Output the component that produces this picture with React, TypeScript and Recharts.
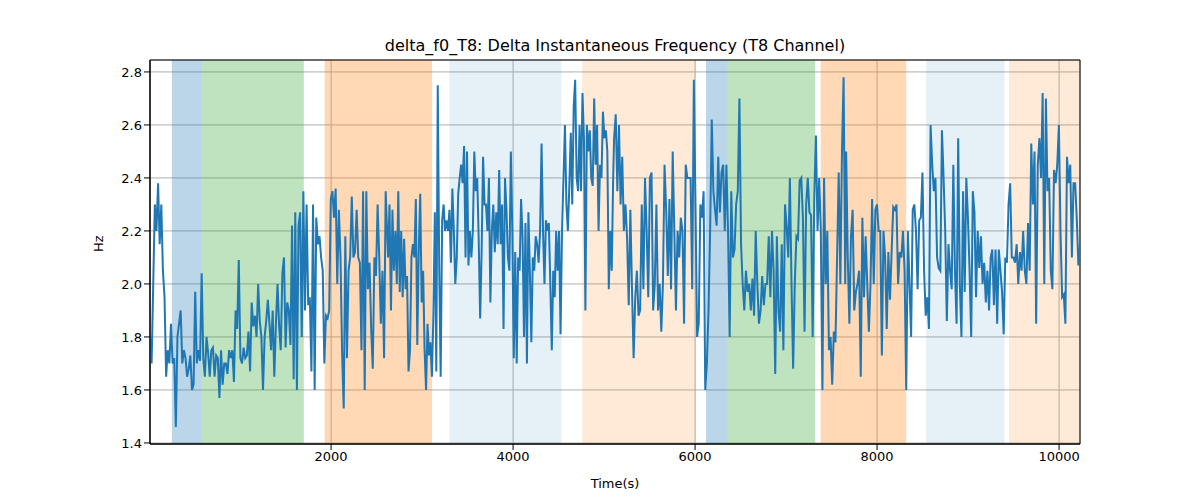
import React from "react";
import {
  LineChart,
  Line,
  XAxis,
  YAxis,
  CartesianGrid,
  ReferenceArea,
} from "recharts";

// values, one list per stretch of the time axis
const seg1: number[] = [
  1.8, 1.7, 2.0, 2.3, 2.2, 2.38, 2.15, 2.3, 2.05, 1.95, 1.65, 1.75, 1.7, 1.85, 1.7, 1.72, 1.46, 1.8, 1.85, 1.9,
  1.7, 1.75, 1.72, 1.65, 1.68, 1.73, 1.6, 1.62, 1.97, 1.7, 1.75, 1.71, 2.04, 1.72, 1.65, 1.8, 1.74, 1.65, 1.75, 1.76,
  1.65, 1.73, 1.72, 1.57, 1.75, 1.62, 1.7, 1.7, 1.66, 1.75, 1.72, 1.75, 1.63, 1.9, 1.83, 2.09, 1.72, 1.7, 1.76, 1.72,
  1.73, 1.82, 1.67, 1.93, 1.84, 1.88, 1.8, 2.0, 1.86, 1.8, 1.6, 1.8, 1.86, 1.94, 1.85, 1.75, 1.9, 1.65, 1.85, 2.0,
  1.84, 1.75, 2.04, 2.1, 1.76, 1.93, 1.9, 1.77, 2.22, 1.64, 2.27, 1.6, 2.22, 2.27, 1.8, 2.35, 1.9, 2.3, 1.92, 1.95,
  1.67, 2.3, 1.6, 2.25, 2.15, 2.18, 2.1, 2.05, 1.7, 1.88, 1.87, 1.9, 2.32, 2.35, 2.25, 2.36, 2.0, 2.28, 2.1, 1.74,
  1.53, 2.18, 1.72, 2.05, 2.1, 2.33, 2.1, 2.12, 2.28, 2.1, 2.08, 1.75, 2.35, 1.6, 2.35, 1.98, 2.08, 1.83, 1.68, 2.1,
  2.03, 2.3, 2.1, 1.85, 2.05, 1.72, 2.35,
];
const seg2: number[] = [
  2.25, 2.1, 2.3, 1.9, 2.28, 2.05, 2.2, 2.0, 2.35, 1.97, 2.2, 1.95, 2.17, 1.98, 2.03, 1.67, 1.75, 2.1, 2.15, 2.1,
  2.32, 1.77, 2.12, 2.34, 1.93, 2.05, 1.75, 1.6, 1.85, 1.73, 1.78, 1.65, 1.88, 2.27, 1.67, 2.75, 2.06, 1.65, 2.24, 2.3,
  2.2, 2.24, 2.2, 2.28, 2.08, 2.36, 2.2, 2.0, 2.1, 2.34, 2.4, 2.45, 2.38, 2.52, 2.1, 2.5, 2.07, 2.2, 2.1, 2.2,
  2.5, 2.35, 2.4, 2.17, 1.87, 2.12, 2.48, 2.3, 2.3, 2.2, 2.4, 1.93, 2.2, 2.3, 2.12, 2.27, 2.15, 2.43, 2.15, 2.3,
  1.83, 2.4, 2.28, 2.1, 2.05, 2.5, 2.2, 1.72, 2.12, 1.7, 2.1, 2.05, 2.32, 2.18, 1.8, 2.23, 1.7, 2.27, 2.05, 1.78,
  2.1, 2.05, 2.18, 2.15, 2.08, 2.2, 2.53, 2.2, 2.0, 2.24, 2.2, 2.23, 2.0, 1.75, 2.05, 1.95, 2.2, 2.05, 2.2, 1.81,
  2.2, 2.4, 2.6, 2.3, 2.2, 2.37, 2.57, 2.3, 2.67, 2.77, 2.4, 2.35, 2.6, 2.35, 2.72, 2.55, 1.9, 2.6, 2.5, 2.58,
  2.4, 2.37, 2.7, 2.45, 2.6, 2.2, 2.45, 2.4, 2.65, 2.55, 2.58, 2.5, 1.98, 2.2, 2.05, 2.4,
];
const seg3: number[] = [
  2.55, 2.64, 2.35, 2.6, 2.3, 2.48, 2.2, 2.3, 2.17, 1.92, 2.28, 1.98, 1.72, 1.95, 2.05, 1.88, 1.9, 2.3, 1.98, 2.4,
  2.2, 1.95, 2.4, 2.42, 1.9, 2.0, 2.3, 1.9, 2.0, 1.82, 2.0, 2.45, 2.28, 2.03, 2.32, 1.98, 2.5, 2.2, 1.9, 2.2,
  2.1, 2.25, 2.2, 1.85, 2.45, 2.4, 2.4, 2.4, 1.98, 2.77, 2.3, 1.8, 1.85, 2.3, 2.25, 2.35, 1.6, 1.7, 1.9, 2.2,
  2.62, 2.35, 2.28, 2.22, 2.48, 2.27, 2.42, 2.45, 2.2, 2.45, 2.2, 1.8, 2.35, 2.1, 2.13, 2.3, 2.35, 2.7, 2.15, 2.0,
  1.9, 2.05, 1.97, 2.0, 1.9, 2.02, 1.88, 2.2, 2.0, 1.85, 1.9, 2.03, 1.92, 2.0, 2.0, 2.18, 1.95, 2.2, 2.05, 1.66,
  2.18, 1.9, 1.82, 2.15, 1.75, 2.3, 2.22, 2.1, 2.4, 2.0, 1.68, 2.0, 2.18, 2.17, 2.39, 2.4, 2.25, 1.82, 2.3, 2.4,
  2.27, 2.26, 1.8, 2.33, 2.56, 2.2, 2.4, 2.2, 1.6, 2.4, 2.0, 2.2, 1.75, 1.8, 1.62, 1.82, 1.78, 2.1, 2.42, 2.0,
  2.5, 2.78, 2.0,
];
const seg4: number[] = [
  2.5, 2.1, 1.85, 2.18, 2.28, 1.9, 1.97, 2.0, 2.05, 1.65, 2.25, 1.95, 2.18, 2.0, 1.82, 2.0, 2.32, 2.0, 2.28, 2.3,
  2.2, 2.2, 1.73, 2.2, 2.1, 1.83, 2.12, 1.94, 2.12, 2.29, 2.28, 2.3, 2.0, 2.12, 2.1, 2.2, 2.05, 1.6, 2.2, 2.0,
  1.8, 2.28, 2.3, 2.2, 1.98, 2.24, 2.25, 2.42, 2.05, 1.88, 1.95, 1.83, 2.6, 2.45, 2.35, 2.4, 2.1, 2.06, 2.05, 2.58,
  2.4, 2.2, 1.86, 2.15, 2.05, 1.98, 2.45, 2.05, 1.85, 2.55, 2.0, 1.8, 2.35, 1.97, 2.4, 2.25, 2.05, 1.8, 2.35, 2.27,
  1.95, 2.2, 2.06, 2.18, 2.0, 2.08, 1.93, 2.05, 1.9, 2.1, 2.13, 1.92, 2.13, 1.85, 2.13, 2.05, 1.97, 1.81, 2.1, 2.08,
  2.3, 2.38, 2.1, 2.1, 2.08, 2.15, 2.0, 2.12, 2.05, 2.2, 2.05, 2.0, 2.23, 2.05, 2.53, 2.3, 2.5, 1.85, 2.45, 2.55,
  2.4, 2.72, 2.0, 2.7, 2.35, 2.4, 2.05, 1.98, 2.43, 2.38, 2.45, 2.6, 2.2, 1.95, 1.96, 1.85, 2.48, 2.38, 2.45, 2.1,
  2.38, 2.38, 2.25, 2.07, 2.15,
];
// time span covered by each list
const segSpans: [number, number][] = [
  [10, 2600],
  [2610, 5100],
  [5110, 7650],
  [7660, 10230],
];

const phases = [
  { x1: 250, x2: 580, color: "#1f77b4", opacity: 0.3 },
  { x1: 580, x2: 1700, color: "#2ca02c", opacity: 0.3 },
  { x1: 1930, x2: 3110, color: "#ff7f0e", opacity: 0.3 },
  { x1: 3300, x2: 4530, color: "#1f77b4", opacity: 0.11 },
  { x1: 4760, x2: 6010, color: "#ff7f0e", opacity: 0.16 },
  { x1: 6120, x2: 6360, color: "#1f77b4", opacity: 0.3 },
  { x1: 6360, x2: 7320, color: "#2ca02c", opacity: 0.3 },
  { x1: 7380, x2: 8320, color: "#ff7f0e", opacity: 0.3 },
  { x1: 8540, x2: 9400, color: "#1f77b4", opacity: 0.11 },
  { x1: 9450, x2: 10230, color: "#ff7f0e", opacity: 0.16 },
];

const xTicks = [2000, 4000, 6000, 8000, 10000];
const yTicks = [1.4, 1.6, 1.8, 2.0, 2.2, 2.4, 2.6, 2.8];

const data = [seg1, seg2, seg3, seg4].flatMap((vals, s) => {
  const [a, b] = segSpans[s];
  return vals.map((v, i) => ({ t: a + ((b - a) * i) / (vals.length - 1), hz: v }));
});

const font = "DejaVu Sans";

export default function App() {
  return (
    <div style={{ width: 1200, height: 500, margin: "-8px 0 0 -8px", position: "relative", background: "#fff", fontFamily: font }}>
      <div style={{ position: "absolute", top: 36, left: 0, width: 1230, textAlign: "center", fontSize: 16, color: "#000" }}>
        delta_f0_T8: Delta Instantaneous Frequency (T8 Channel)
      </div>
      <LineChart width={1200} height={500} data={data} margin={{ top: 60, right: 120, bottom: 12, left: 90 }}>
        {phases.map((p, i) => (
          <ReferenceArea key={i} x1={p.x1} x2={p.x2} y1={1.396} y2={2.845} fill={p.color} fillOpacity={p.opacity} stroke="none" />
        ))}
        <CartesianGrid stroke="#b0b0b0" strokeWidth={1} />
        <XAxis
          dataKey="t"
          type="number"
          domain={[10, 10230]}
          ticks={xTicks}
          allowDataOverflow
          height={44}
          tick={{ fill: "#000", fontSize: 13, fontFamily: font }}
          tickLine={{ stroke: "#000" }}
          axisLine={{ stroke: "#000" }}
          label={{ value: "Time(s)", position: "insideBottom", offset: 0, fill: "#000", fontSize: 13, fontFamily: font }}
        />
        <YAxis
          type="number"
          domain={[1.396, 2.845]}
          ticks={yTicks}
          allowDataOverflow
          width={60}
          tickFormatter={(v: number) => v.toFixed(1)}
          tick={{ fill: "#000", fontSize: 13, fontFamily: font }}
          tickLine={{ stroke: "#000" }}
          axisLine={{ stroke: "#000" }}
          label={{ value: "Hz", angle: -90, position: "insideLeft", offset: 8, fill: "#000", fontSize: 13, fontFamily: font }}
        />
        <Line dataKey="hz" stroke="#1f77b4" strokeWidth={2} dot={false} isAnimationActive={false} />
        <ReferenceArea x1={10} x2={10230} y1={1.396} y2={2.845} fill="none" stroke="#000" strokeWidth={1} />
      </LineChart>
    </div>
  );
}
